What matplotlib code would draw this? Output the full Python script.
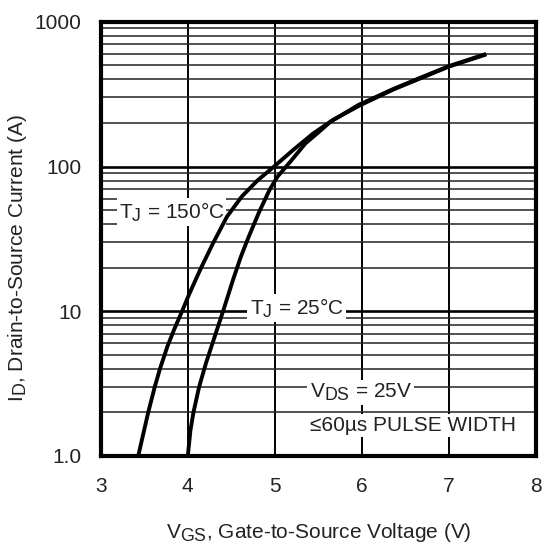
import numpy as np
import matplotlib
matplotlib.use('Agg')
import matplotlib.pyplot as plt
from matplotlib.ticker import FixedLocator, NullFormatter
import matplotlib._mathtext as mtx

plt.rcParams['font.family'] = ['Liberation Sans', 'DejaVu Sans']
plt.rcParams['mathtext.default'] = 'regular'
# datasheet style subscripts are only a little smaller than the text
if hasattr(mtx, 'SHRINK_FACTOR'):
    mtx.SHRINK_FACTOR = 0.85

# transfer characteristics
v_150 = [3.43, 3.545, 3.62, 3.68, 3.765, 3.84, 3.94, 4.02, 4.15, 4.29, 4.45, 4.62, 4.80, 5.0, 5.21, 5.44,
         5.67, 5.98, 6.36, 6.67, 7.0, 7.43]
i_150 = [1.0, 2.0, 3.0, 4.0, 5.7, 7.4, 10.2, 13.3, 19.8, 29.5, 45, 62, 80, 101, 130, 169,
         210, 265, 340, 406, 490, 595]

v_25 = [4.0, 4.03, 4.065, 4.13, 4.21, 4.31, 4.41, 4.52, 4.61, 4.70, 4.82, 4.94, 5.03, 5.19, 5.35, 5.51,
        5.64, 5.96, 6.36, 6.67, 7.0, 7.43]
i_25 = [1.0, 1.5, 2.0, 3.0, 4.4, 6.7, 10.2, 16.5, 23.8, 32.7, 48.5, 69, 85, 110, 144, 174,
        204, 266, 343, 410, 494, 600]

x_ticks = [3, 4, 5, 6, 7, 8]
y_ticks = [1, 10, 100, 1000]
y_labels = ['1.0', '10', '100', '1000']

fig = plt.figure(figsize=(5.45, 5.46), dpi=100)
ax = fig.add_axes([0.185, 0.165, 0.798, 0.795])

ax.set_yscale('log')
ax.set_xlim(3, 8)
ax.set_ylim(1, 1000)

# grid: integer volts, and every log step
for xv in x_ticks[1:-1]:
    ax.axvline(xv, color='black', lw=1.4, zorder=1)
for dec in [1, 10, 100]:
    for m in range(2, 10):
        ax.axhline(dec * m, color='#222222', lw=1.1, zorder=1)
for yv in [10, 100]:
    ax.axhline(yv, color='black', lw=1.9, zorder=1)

ax.plot(v_150, i_150, color='black', lw=2.8, zorder=3, solid_capstyle='butt', solid_joinstyle='round')
ax.plot(v_25, i_25, color='black', lw=2.8, zorder=3, solid_capstyle='butt', solid_joinstyle='round')

ax.xaxis.set_major_locator(FixedLocator(x_ticks))
ax.yaxis.set_major_locator(FixedLocator(y_ticks))
ax.yaxis.set_minor_formatter(NullFormatter())
ax.set_yticklabels(y_labels)
ax.tick_params(which='both', length=0, labelsize=15, colors='#222222')
ax.tick_params(axis='x', pad=15)
ax.tick_params(axis='y', pad=14)

for s in ax.spines.values():
    s.set_linewidth(3)
    s.set_color('black')
    s.set_zorder(4)

box = dict(facecolor='white', edgecolor='none', pad=1.5)
ax.text(4.42, 48.5, 'T$_J$ = 150°C', fontsize=15, ha='right', va='center', bbox=box, zorder=2, color='#222222')
ax.text(4.71, 10.5, 'T$_J$ = 25°C', fontsize=15, ha='left', va='center', bbox=box, zorder=2, color='#222222')
ax.text(5.4, 2.75, 'V$_{DS}$ = 25V', fontsize=15, ha='left', va='center', bbox=box, zorder=2, color='#222222')
ax.text(5.4, 1.62, '≤60µs PULSE WIDTH', fontsize=15, ha='left', va='center', bbox=box, zorder=2, color='#222222')

ax.set_xlabel('V$_{GS}$, Gate-to-Source Voltage (V)', fontsize=15, labelpad=18, color='#222222')
ax.set_ylabel('I$_D$, Drain-to-Source Current (A)', fontsize=15, color='#222222')
ax.yaxis.set_label_coords(-0.165, 0.455)

fig.savefig('out.png', dpi=100)
